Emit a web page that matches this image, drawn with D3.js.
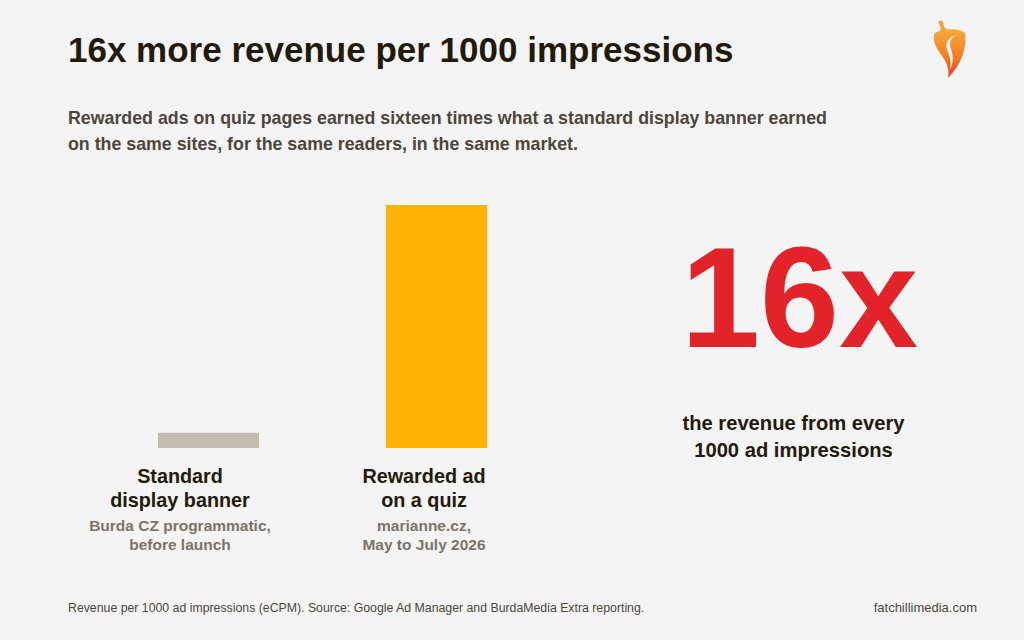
<!DOCTYPE html>
<html><head><meta charset="utf-8">
<script src="https://cdn.jsdelivr.net/npm/d3@7"></script>
<style>
html,body{margin:0;padding:0;background:#f4f4f4;}
svg{display:block;}
text{font-family:"Liberation Sans",Arial,sans-serif;}
</style></head>
<body>
<script>
const categories = ["Standard display banner", "Rewarded ad on a quiz"];
const labelLines = [["Standard", "display banner"], ["Rewarded ad", "on a quiz"]];
const sourceLines = [["Burda CZ programmatic,", "before launch"], ["marianne.cz,", "May to July 2026"]];
const values = [1, 16]; // relative revenue per 1000 impressions (eCPM index)
const barColors = ["#c4bcb1", "#ffb300"];
const titleText = "16x more revenue per 1000 impressions";
const subtitleLines = ["Rewarded ads on quiz pages earned sixteen times what a standard display banner earned", "on the same sites, for the same readers, in the same market."];
const bigNumber = "16x";
const bigCaption = ["the revenue from every", "1000 ad impressions"];
const footNote = "Revenue per 1000 ad impressions (eCPM). Source: Google Ad Manager and BurdaMedia Extra reporting.";
const footSite = "fatchillimedia.com";

const W = 1024, H = 640;
const svg = d3.select("body").append("svg").attr("width", W).attr("height", H);
svg.append("rect").attr("width", W).attr("height", H).attr("fill", "#f4f4f4");

const dark = "#221a0c", mid = "#4d463c", grey = "#7b7368";

svg.append("text").attr("x", 68).attr("y", 62).attr("font-size", 35).attr("font-weight", 700)
  .attr("fill", dark).text(titleText);

svg.append("g").selectAll("text").data(subtitleLines).join("text")
  .attr("x", 68).attr("y", (d, i) => 124 + i * 26).attr("font-size", 17.8).attr("font-weight", 700)
  .attr("fill", mid).text(d => d);

const x = d3.scaleBand().domain(categories).range([158, 487]).paddingInner(0.557).paddingOuter(0);
const y = d3.scaleLinear().domain([0, 16]).range([448, 205]);
const xLabel = d3.scalePoint().domain(categories).range([180, 424]);

svg.append("g").selectAll("rect").data(categories).join("rect")
  .attr("x", d => x(d)).attr("width", x.bandwidth())
  .attr("y", (d, i) => y(values[i])).attr("height", (d, i) => y(0) - y(values[i]))
  .attr("fill", (d, i) => barColors[i]);

const lab = svg.append("g");
categories.forEach((c, i) => {
  const cx = xLabel(c);
  lab.append("g").selectAll("text").data(labelLines[i]).join("text")
    .attr("x", cx).attr("y", (d, j) => 483 + j * 24).attr("text-anchor", "middle")
    .attr("font-size", 19.8).attr("font-weight", 700).attr("fill", dark).text(d => d);
  lab.append("g").selectAll("text").data(sourceLines[i]).join("text")
    .attr("x", cx).attr("y", (d, j) => 531 + j * 19).attr("text-anchor", "middle")
    .attr("font-size", 15.5).attr("font-weight", 700).attr("fill", grey).text(d => d);
});

svg.append("text").attr("x", 799.5).attr("y", 347).attr("text-anchor", "middle")
  .attr("font-size", 142).attr("font-weight", 700).attr("fill", "#e3232a").text(bigNumber);

svg.append("g").selectAll("text").data(bigCaption).join("text")
  .attr("x", 793.5).attr("y", (d, i) => 430 + i * 27).attr("text-anchor", "middle")
  .attr("font-size", 20.2).attr("font-weight", 700).attr("fill", dark).text(d => d);

svg.append("text").attr("x", 68).attr("y", 612).attr("font-size", 12.3).attr("fill", mid).text(footNote);
svg.append("text").attr("x", 977).attr("y", 612).attr("text-anchor", "end").attr("font-size", 13).attr("fill", mid).text(footSite);

// logo
const defs = svg.append("defs");
const gr = defs.append("linearGradient").attr("id", "chili").attr("x1", 0).attr("y1", 0).attr("x2", 0).attr("y2", 1);
gr.append("stop").attr("offset", 0).attr("stop-color", "#f9a93a");
gr.append("stop").attr("offset", 0.6).attr("stop-color", "#f27a26");
gr.append("stop").attr("offset", 1).attr("stop-color", "#e43d1e");
const logo = svg.append("g");
logo.append("path").attr("fill", "#f6a23a")
  .attr("d", "M938,22 C940,20 942,20 943,22 L944,27 C946,28 947,29 947,31 L940,32 C941,29 941,26 938,22 Z");
logo.append("path").attr("fill", "url(#chili)")
  .attr("d", "M935,33 C944,28 958,28 965,33 C967,47 962,64 948,78 C950,68 946,61 940,53 C935,46 932,39 935,33 Z");
logo.append("path").attr("fill", "#f4f4f4")
  .attr("d", "M956,35 C949,37 945,42 947,49 C949,56 952,61 950,70 C954,62 953,55 951,49 C949,43 950,38 956,35 Z");
</script>
</body></html>
